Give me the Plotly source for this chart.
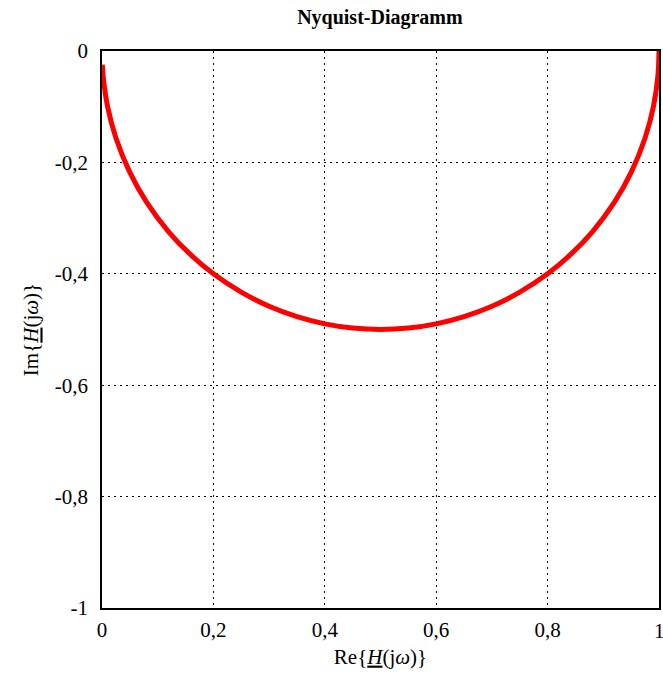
import plotly.graph_objects as go

re_vals = [1.0, 0.998, 0.99, 0.975, 0.95, 0.92, 0.88, 0.84, 0.8, 0.75, 0.7, 0.65, 0.6, 0.55, 0.5,
           0.45, 0.4, 0.35, 0.3, 0.25, 0.2, 0.16, 0.12, 0.08, 0.05, 0.025, 0.01, 0.002, 0.0006]
im_vals = [0.0, -0.0447, -0.0995, -0.1561, -0.2179, -0.2713, -0.3250, -0.3666, -0.4, -0.4330, -0.4583,
           -0.4770, -0.4899, -0.4975, -0.5, -0.4975, -0.4899, -0.4770, -0.4583, -0.4330, -0.4,
           -0.3666, -0.3250, -0.2713, -0.2179, -0.1561, -0.0995, -0.0447, -0.0245]

x_ticks = [0, 0.2, 0.4, 0.6, 0.8, 1]
x_ticktext = ["0", "0,2", "0,4", "0,6", "0,8", "1"]
y_ticks = [0, -0.2, -0.4, -0.6, -0.8, -1]
y_ticktext = ["0", "-0,2", "-0,4", "-0,6", "-0,8", "-1"]

font = "Liberation Serif"

fig = go.Figure()
fig.add_trace(go.Scatter(x=re_vals, y=im_vals, mode="lines",
                         line=dict(color="#ff0000", width=5, shape="spline"),
                         showlegend=False, cliponaxis=False))

axis_common = dict(showgrid=True, gridcolor="black", griddash="2px,4px", gridwidth=1,
                   showline=True, linecolor="black", linewidth=1.5, mirror=True,
                   zeroline=False, ticks="", automargin=False,
                   tickfont=dict(family=font, size=21, color="black"))

# last x tick label sits at the window edge; plotly would drop it, so draw it as an annotation
fig.add_annotation(x=x_ticks[-1], xref="x", y=0, yref="paper", yanchor="top", yshift=-9,
                   text=x_ticktext[-1], showarrow=False,
                   font=dict(family=font, size=21, color="black"))

fig.update_layout(
    width=663, height=678,
    margin=dict(l=102, r=4, t=51, b=70),
    paper_bgcolor="white", plot_bgcolor="white",
    title=dict(text="<b>Nyquist-Diagramm</b>", x=0.573, xanchor="center", y=0.975, yanchor="middle",
               font=dict(family=font, size=20, color="black")),
    xaxis=dict(range=[0, 1], tickvals=x_ticks[:-1], ticktext=x_ticktext[:-1], ticklabelstandoff=2,
               title=dict(text="Re{<i><u>H</u></i>(j<i>ω</i>)}", standoff=8,
                          font=dict(family=font, size=21, color="black")),
               **axis_common),
    yaxis=dict(range=[-1, 0], tickvals=y_ticks, ticktext=y_ticktext, ticklabelstandoff=8,
               title=dict(text="Im{<i><u>H</u></i>(j<i>ω</i>)}", standoff=10,
                          font=dict(family=font, size=21, color="black")),
               **axis_common),
)

fig.write_html("out.html")
